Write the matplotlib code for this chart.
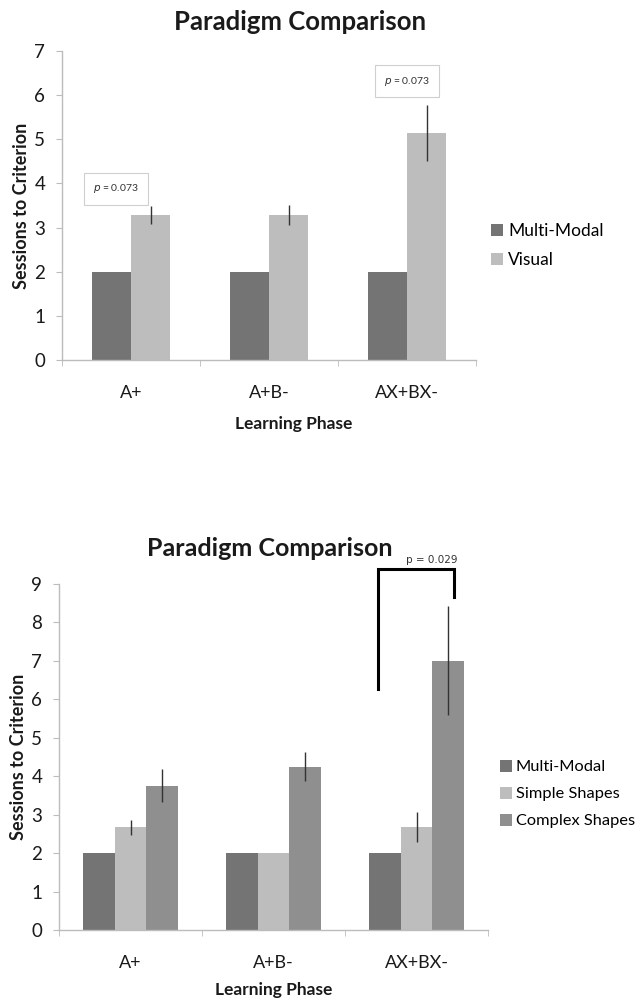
import matplotlib
matplotlib.use("Agg")
import matplotlib.pyplot as plt
import numpy as np

plt.rcParams['font.family'] = ['Lato', 'DejaVu Sans']

phases = ["A+", "A+B-", "AX+BX-"]

# first panel: multi-modal vs visual
mm_top = [2, 2, 2]
visual = [3.28, 3.28, 5.14]
visual_err = [0.2, 0.23, 0.64]

# second panel: multi-modal vs simple / complex shapes
mm_bot = [2, 2, 2]
simple = [2.67, 2.0, 2.67]
simple_err = [0.19, 0.0, 0.39]
complex_ = [3.75, 4.25, 7.0]
complex_err = [0.43, 0.38, 1.42]

c_mm = "#747474"
c_light = "#bdbdbd"
c_complex = "#8f8f8f"
spine_c = "#bcbcbc"
txt_c = "#1a1a1a"

fig = plt.figure(figsize=(6.36, 10.05), dpi=100)


def style_axes(ax, ymax, xlabelpad):
    ax.set_xlim(-0.5, 2.5)
    ax.set_ylim(0, ymax)
    ax.set_yticks(range(ymax + 1))
    ax.set_xticks([0, 1, 2])
    ax.set_xticklabels(phases)
    ax.set_xticks([-0.5, 0.5, 1.5, 2.5], minor=True)
    ax.tick_params(axis="x", which="major", length=0, pad=18, labelsize=13, labelcolor=txt_c)
    ax.tick_params(axis="x", which="minor", length=4, color=spine_c, direction="out")
    ax.tick_params(axis="y", length=4, color=spine_c, pad=8, labelsize=13.5, labelcolor=txt_c)
    for s in ["top", "right"]:
        ax.spines[s].set_visible(False)
    for s in ["left", "bottom"]:
        ax.spines[s].set_color(spine_c)
        ax.spines[s].set_linewidth(1.0)
    ax.set_xlabel("Learning Phase", fontsize=12.5, fontweight="bold", labelpad=xlabelpad, color=txt_c)
    ax.set_ylabel("Sessions to Criterion", fontsize=13, fontweight="bold", labelpad=3, color=txt_c)


x = np.arange(len(phases))

# ---- top chart ----
ax1 = fig.add_axes([62 / 636, 1 - 360 / 1005, 414 / 636, 309 / 1005])
w = 1 / 3.5
ax1.bar(x - w / 2, mm_top, w, color=c_mm, label="Multi-Modal")
ax1.bar(x + w / 2, visual, w, color=c_light, label="Visual")
ax1.errorbar(x + w / 2, visual, yerr=visual_err, fmt="none", ecolor="#333333", elinewidth=1, capsize=0)
style_axes(ax1, 7, 11)
ax1.xaxis.label.set_position((0.56, 0))
for xp, yp in [(-0.11, 3.88), (2.0, 6.32)]:
    ax1.text(xp, yp, r"$\it{p}$ = 0.073", fontsize=7.5, ha="center", va="center", color="#333333",
             bbox=dict(boxstyle="square,pad=0.9", fc="white", ec="#cfcfcf", lw=0.8))
ax1.legend(loc="center left", bbox_to_anchor=(1.01, 0.37), frameon=False, fontsize=12.5,
           handlelength=0.7, handleheight=0.7, handletextpad=0.3, labelspacing=0.75,
           borderaxespad=0.2)
fig.text(300 / 636, 1 - 22 / 1005, "Paradigm Comparison", fontsize=18.5, fontweight="bold",
         ha="center", va="center", color=txt_c)

# ---- bottom chart ----
ax2 = fig.add_axes([59 / 636, 1 - 930 / 1005, 429 / 636, 346 / 1005])
w2 = 1 / 4.5
ax2.bar(x - w2, mm_bot, w2, color=c_mm, label="Multi-Modal")
ax2.bar(x, simple, w2, color=c_light, label="Simple Shapes")
ax2.bar(x + w2, complex_, w2, color=c_complex, label="Complex Shapes")
se = np.array(simple_err)
mask = se > 0
ax2.errorbar(x[mask], np.array(simple)[mask], yerr=se[mask], fmt="none", ecolor="#333333", elinewidth=1, capsize=0)
ax2.errorbar(x + w2, complex_, yerr=complex_err, fmt="none", ecolor="#333333", elinewidth=1, capsize=0)
style_axes(ax2, 9, 8)
ax2.xaxis.label.set_position((0.5, 0))
ax2.legend(loc="center left", bbox_to_anchor=(1.005, 0.393), frameon=False, fontsize=11.8,
           handlelength=0.75, handleheight=0.75, handletextpad=0.2, labelspacing=0.75,
           borderaxespad=0.2)

# significance bracket
ax2.plot([1.732, 1.732, 2.26, 2.26], [6.27, 9.39, 9.39, 8.66], color="black", lw=2.2,
         clip_on=False, solid_joinstyle="miter")
ax2.text(2.11, 9.63, "p = 0.029", fontsize=7.5, ha="center", va="center",
         family="DejaVu Sans", color="#333333", clip_on=False)
fig.text(270 / 636, 1 - 549 / 1005, "Paradigm Comparison", fontsize=18, fontweight="bold",
         ha="center", va="center", color=txt_c)

fig.savefig("out.png", dpi=100, facecolor="white")
